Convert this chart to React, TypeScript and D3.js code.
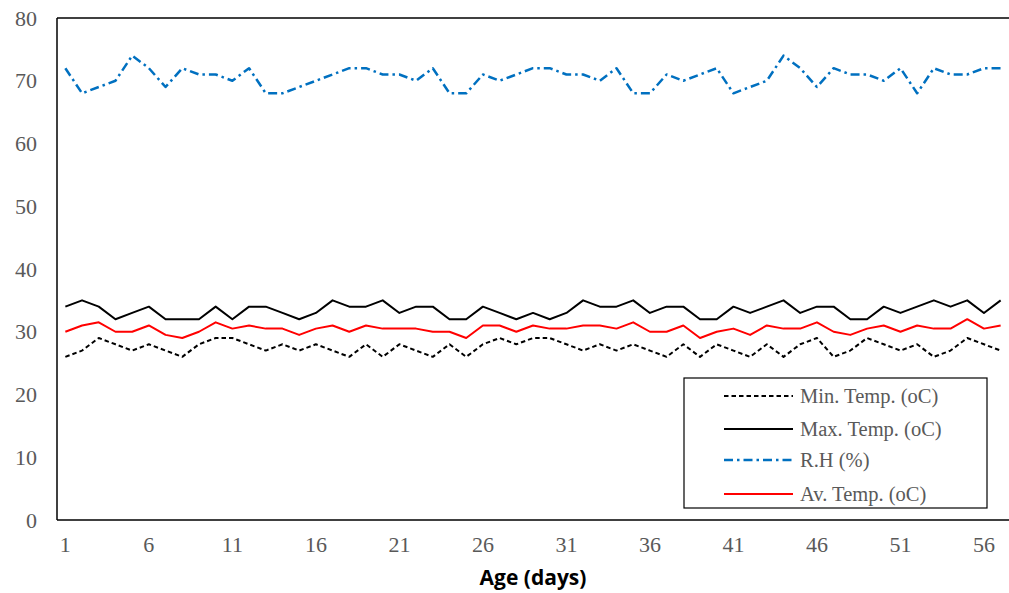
import React from "react";
import * as d3 from "d3";

// Daily climate readings over the rearing period
const days: number[] = Array.from({ length: 57 }, (_, i) => i + 1);

const minTemp: number[] = [
  26, 27, 29, 28, 27, 28, 27, 26, 28, 29, 29, 28, 27, 28, 27, 28, 27, 26, 28, 26,
  28, 27, 26, 28, 26, 28, 29, 28, 29, 29, 28, 27, 28, 27, 28, 27, 26, 28, 26, 28,
  27, 26, 28, 26, 28, 29, 26, 27, 29, 28, 27, 28, 26, 27, 29, 28, 27,
];

const maxTemp: number[] = [
  34, 35, 34, 32, 33, 34, 32, 32, 32, 34, 32, 34, 34, 33, 32, 33, 35, 34, 34, 35,
  33, 34, 34, 32, 32, 34, 33, 32, 33, 32, 33, 35, 34, 34, 35, 33, 34, 34, 32, 32,
  34, 33, 34, 35, 33, 34, 34, 32, 32, 34, 33, 34, 35, 34, 35, 33, 35,
];

const relHumidity: number[] = [
  72, 68, 69, 70, 74, 72, 69, 72, 71, 71, 70, 72, 68, 68, 69, 70, 71, 72, 72, 71,
  71, 70, 72, 68, 68, 71, 70, 71, 72, 72, 71, 71, 70, 72, 68, 68, 71, 70, 71, 72,
  68, 69, 70, 74, 72, 69, 72, 71, 71, 70, 72, 68, 72, 71, 71, 72, 72,
];

const avTemp: number[] = [
  30, 31, 31.5, 30, 30, 31, 29.5, 29, 30, 31.5, 30.5, 31, 30.5, 30.5, 29.5, 30.5, 31, 30, 31, 30.5,
  30.5, 30.5, 30, 30, 29, 31, 31, 30, 31, 30.5, 30.5, 31, 31, 30.5, 31.5, 30, 30, 31, 29, 30,
  30.5, 29.5, 31, 30.5, 30.5, 31.5, 30, 29.5, 30.5, 31, 30, 31, 30.5, 30.5, 32, 30.5, 31,
];

const xTicks: number[] = [1, 6, 11, 16, 21, 26, 31, 36, 41, 46, 51, 56];
const yTicks: number[] = [0, 10, 20, 30, 40, 50, 60, 70, 80];

const seriesLabels: string[] = [
  "Min. Temp. (oC)",
  "Max. Temp. (oC)",
  "R.H (%)",
  "Av. Temp. (oC)",
];

const W = 1009;
const H = 593;
const plot = { left: 57, right: 1009, top: 18, bottom: 520 };

const serif = '"Liberation Serif", "DejaVu Serif", "Times New Roman", serif';
const tickColor = "#595959";

export default function App() {
  const x = d3
    .scaleLinear()
    .domain([0.5, days.length + 0.5])
    .range([plot.left, plot.right]);
  const y = d3.scaleLinear().domain([0, 80]).range([plot.bottom, plot.top]);

  const line = d3
    .line<number>()
    .x((_, i) => x(days[i]))
    .y((v) => y(v));

  const series = [
    { values: minTemp, color: "#000000", width: 2, dash: "4.5,3" },
    { values: maxTemp, color: "#000000", width: 2, dash: undefined },
    { values: relHumidity, color: "#0070C0", width: 2.5, dash: "9,4,2.5,4" },
    { values: avTemp, color: "#FF0000", width: 2, dash: undefined },
  ];

  const legend = { x: 684, y: 378, w: 303, h: 130 };
  const legendRows = [396, 429, 460, 494];

  const serifStyle = { fontFamily: serif };

  return (
    <svg
      width={W}
      height={H}
      style={{ position: "absolute", left: 0, top: 0, background: "#fff" }}
    >
      {/* y tick labels */}
      {yTicks.map((t) => (
        <text
          key={`y${t}`}
          x={37}
          y={y(t)}
          dy="0.35em"
          textAnchor="end"
          style={serifStyle}
          fontSize={22}
          fill={tickColor}
        >
          {t}
        </text>
      ))}

      {/* x tick labels */}
      {xTicks.map((t) => (
        <text
          key={`x${t}`}
          x={x(t)}
          y={544}
          dy="0.35em"
          textAnchor="middle"
          style={serifStyle}
          fontSize={22}
          fill={tickColor}
        >
          {t}
        </text>
      ))}

      {/* axis title */}
      <text
        x={533}
        y={585}
        textAnchor="middle"
        style={{ fontFamily: '"Open Sans", "Liberation Sans", sans-serif' }}
        fontWeight="bold"
        fontSize={21}
        fill="#000"
      >
        Age (days)
      </text>

      {/* plot frame: left, top, bottom */}
      <line x1={plot.left} x2={plot.left} y1={plot.top} y2={plot.bottom} stroke="#000" strokeWidth={1.5} />
      <line x1={plot.left} x2={plot.right} y1={plot.top} y2={plot.top} stroke="#000" strokeWidth={1.5} />
      <line x1={plot.left} x2={plot.right} y1={plot.bottom} y2={plot.bottom} stroke="#000" strokeWidth={1.5} />

      {/* series */}
      {series.map((s, i) => (
        <path
          key={`s${i}`}
          d={line(s.values) ?? ""}
          fill="none"
          stroke={s.color}
          strokeWidth={s.width}
          strokeDasharray={s.dash}
          strokeLinejoin="round"
        />
      ))}

      {/* legend */}
      <rect
        x={legend.x}
        y={legend.y}
        width={legend.w}
        height={legend.h}
        fill="#fff"
        stroke="#000"
        strokeWidth={1.2}
      />
      {series.map((s, i) => (
        <g key={`l${i}`}>
          <line
            x1={724}
            x2={793}
            y1={legendRows[i]}
            y2={legendRows[i]}
            stroke={s.color}
            strokeWidth={s.width}
            strokeDasharray={s.dash}
          />
          <text
            x={800}
            y={legendRows[i]}
            dy="0.35em"
            style={serifStyle}
            fontSize={20.5}
            fill={tickColor}
          >
            {seriesLabels[i]}
          </text>
        </g>
      ))}
    </svg>
  );
}
